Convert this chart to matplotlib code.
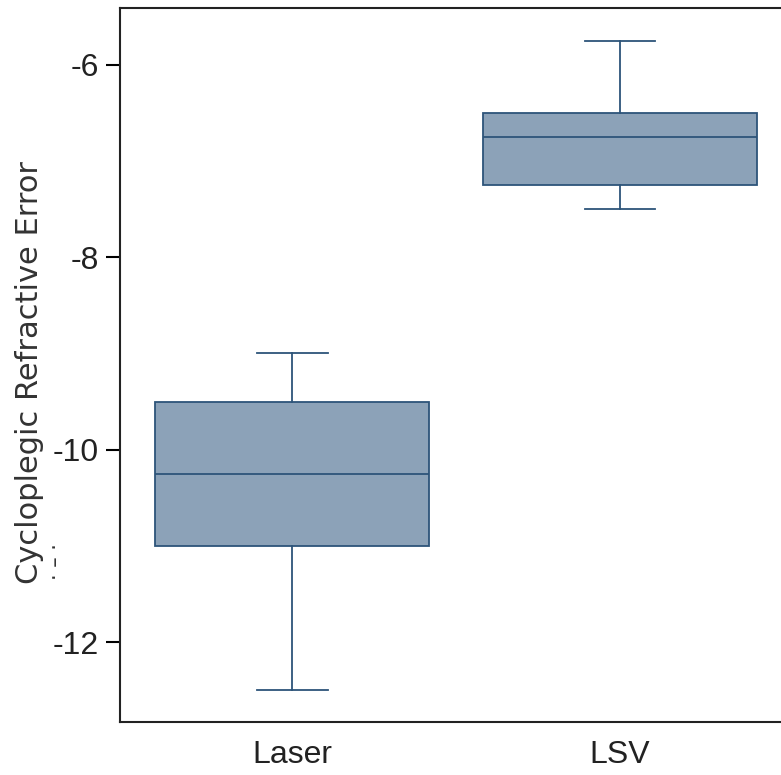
import matplotlib.pyplot as plt

#---DATA-----------------------------------------------------------------
groups = ['Laser', 'LSV']
whislo = [-12.5, -7.5]
q1 = [-11.0, -7.25]
med = [-10.25, -6.75]
q3 = [-9.5, -6.5]
whishi = [-9.0, -5.75]
yticks = [-12, -10, -8, -6]

plt.rcParams['font.family'] = ['Liberation Sans', 'DejaVu Sans']

#---PLOT-----------------------------------------------------------------
fig = plt.figure(figsize=(7.81, 7.75), dpi=100)
ax = fig.add_axes([0.1537, 0.0684, 0.8604, 0.9213])

stats = []
for i in range(len(groups)):
  stats.append(dict(label=groups[i], whislo=whislo[i], q1=q1[i], med=med[i],
                    q3=q3[i], whishi=whishi[i], fliers=[]))

edge = '#2d5479'
fill = '#8ca2b8'
ax.bxp(stats, positions=[1, 2], widths=0.835, patch_artist=True, showfliers=False,
       boxprops=dict(facecolor=fill, edgecolor=edge, linewidth=1.3),
       medianprops=dict(color=edge, linewidth=1.3),
       whiskerprops=dict(color=edge, linewidth=1.3),
       capprops=dict(color=edge, linewidth=1.3),
       capwidths=0.216)

ax.set_xlim(0.475, 2.525)
ax.set_ylim(-12.83, -5.41)
ax.set_yticks(yticks)
ax.set_yticklabels([str(v) for v in yticks])
ax.tick_params(axis='y', length=10, width=1.5, pad=5, labelsize=23, labelcolor='#222222')
ax.tick_params(axis='x', length=0, pad=13, labelsize=23, labelcolor='#222222')
for s in ax.spines.values():
  s.set_linewidth(1.5)
  s.set_color('#222222')

#Axis label is drawn wide in the original, so use the wider DejaVu face
ax.set_ylabel('Cycloplegic Refractive Error', fontsize=22, family='DejaVu Sans', color='#333333')
ax.yaxis.set_label_coords(-0.113, 0.49)
fig.text(0.072, 0.276, '\u00b7 \u2013 \u00b7', rotation=90, fontsize=15, ha='center', va='center',
         color='#333333', family='DejaVu Sans')

fig.savefig('out.png', dpi=100)
